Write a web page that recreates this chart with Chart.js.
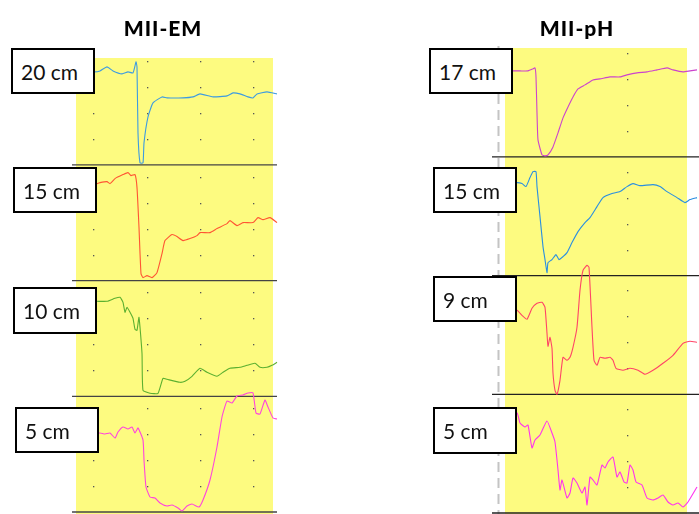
<!DOCTYPE html>
<html>
<head>
<meta charset="utf-8">
<script src="https://cdn.jsdelivr.net/npm/chart.js@4.4.1/dist/chart.umd.min.js"></script>
<style>
  body { margin: 0; background: #fff; }
  #wrap { position: relative; width: 699px; height: 514px; overflow: hidden; font-family: Lato, 'Open Sans', sans-serif; }
  canvas { position: absolute; left: 0; top: 0; }
  .title { position: absolute; top: 16px; width: 160px; text-align: center; font-weight: 900; font-size: 21px; line-height: 24px; letter-spacing: 1px; color: #000; }
  .lbl { position: absolute; box-sizing: border-box; width: 84px; height: 46px; border: 2px solid #000; background: #fff;
         font-size: 21px; padding-left: 8px; display: flex; align-items: center; z-index: 2; color: #111; }
</style>
</head>
<body>
<div id="wrap">
  <canvas id="emChart" width="699" height="514"></canvas>
  <canvas id="phChart" width="699" height="514"></canvas>
  <div class="title" style="left:83px">MII-EM</div>
  <div class="title" style="left:497px">MII-pH</div>
  <div class="lbl" style="left:11px;top:48px">20 cm</div>
  <div class="lbl" style="left:13px;top:167px">15 cm</div>
  <div class="lbl" style="left:13px;top:287px;height:47px">10 cm</div>
  <div class="lbl" style="left:15px;top:407px">5 cm</div>
  <div class="lbl" style="left:429px;top:48px">17 cm</div>
  <div class="lbl" style="left:433px;top:167px">15 cm</div>
  <div class="lbl" style="left:433px;top:276px">9 cm</div>
  <div class="lbl" style="left:433px;top:407px;height:47px">5 cm</div>
</div>
<script>
const emT20 = [0, 1.8, 2.4, 3.1, 3.7, 4.6, 5.2, 5.7, 6.0, 6.1, 6.2, 6.4, 6.7, 6.8, 7.2, 7.7, 8.6, 9.1, 10.7, 11.7, 12.4, 13.7, 15.1, 15.7, 16.4, 17.2, 17.7, 18.1, 19.1, 20.1];
const emV20 = [93, 93, 94, 98, 94, 91, 93, 92, 103, 98, 32, 2, 2, 22, 48, 62, 68, 67, 67, 68, 71, 68, 69, 72, 71, 68, 67, 71, 73, 71];

const emT15 = [0, 2.1, 2.4, 3.1, 3.4, 3.9, 4.7, 5.2, 5.5, 5.9, 6.1, 6.3, 6.5, 6.7, 7.1, 7.6, 8.1, 8.6, 8.9, 9.6, 10.1, 10.7, 11.4, 12.1, 12.4, 13.4, 14.1, 15.1, 15.4, 16.1, 16.7, 17.7, 18.2, 18.7, 19.4, 20.1];
const emV15 = [97, 97, 98, 99, 97, 102, 106, 108, 105, 106, 93, 53, 7, 3, 5, 3, 8, 27, 40, 46, 44, 40, 42, 45, 48, 48, 52, 57, 60, 55, 58, 58, 63, 61, 63, 58];

const emT10 = [0, 2.1, 3.1, 3.9, 4.4, 4.7, 4.9, 5.1, 5.4, 5.7, 5.9, 6.1, 6.3, 6.6, 6.7, 7.4, 8.2, 8.7, 9.1, 10.4, 10.9, 11.6, 12.4, 13.1, 14.1, 14.7, 15.4, 16.4, 17.1, 17.9, 18.4, 19.1, 19.6, 20.1];
const emV10 = [95, 95, 95, 98, 99, 94, 84, 89, 84, 78, 67, 66, 79, 43, 6, 3, 3, 18, 17, 14, 15, 20, 28, 24, 20, 24, 28, 29, 31, 33, 29, 29, 31, 34];

const emT5 = [0, 2.4, 2.9, 3.4, 3.9, 4.2, 4.7, 5.2, 5.6, 5.9, 6.2, 6.7, 6.8, 7.0, 7.4, 7.9, 8.4, 9.1, 9.6, 10.2, 10.6, 11.1, 11.6, 12.3, 12.7, 13.4, 14.1, 14.6, 15.1, 15.6, 16.1, 16.7, 17.2, 17.7, 18.0, 18.4, 18.9, 19.2, 19.7, 20.1];
const emV5 = [79, 79, 78, 79, 74, 80, 85, 83, 85, 79, 84, 72, 52, 25, 15, 14, 9, 6, 7, 4, 1, 6, 8, 5, 12, 32, 65, 95, 111, 109, 116, 117, 119, 119, 99, 98, 112, 105, 94, 93];

const phT17 = [-0.5, 0.8, 1.5, 2.3, 2.8, 3.0, 3.1, 3.2, 3.3, 3.7, 4.0, 4.3, 4.8, 5.3, 5.8, 6.3, 6.8, 7.3, 8.0, 8.8, 9.5, 10.5, 11.5, 12.2, 13.2, 14.2, 15.2, 16.2, 16.8, 17.8, 18.5, 19.2];
const phV17 = [86, 86, 86, 86, 88, 89, 80, 44, 17, 2, 1, 2, 10, 24, 39, 50, 60, 68, 72, 77, 78, 80, 80, 82, 84, 85, 87, 89, 87, 85, 86, 87];

const phT15 = [-0.5, 1.2, 1.7, 2.1, 2.5, 2.8, 3.1, 3.2, 3.5, 3.8, 4.0, 4.2, 4.3, 4.7, 5.1, 5.4, 5.8, 6.2, 6.7, 7.3, 8.0, 8.5, 9.2, 9.8, 10.7, 11.5, 12.2, 12.8, 13.5, 14.8, 15.5, 16.2, 17.2, 18.0, 18.5, 19.2];
const phV15 = [93, 93, 92, 89, 98, 104, 104, 89, 59, 29, 16, 3, 13, 16, 21, 16, 19, 23, 33, 44, 53, 58, 69, 78, 82, 84, 89, 92, 90, 91, 89, 84, 78, 73, 76, 78];

const phT9 = [-0.5, 1.2, 1.7, 2.2, 2.7, 3.2, 3.7, 4.0, 4.2, 4.3, 4.5, 4.7, 4.8, 5.0, 5.2, 5.5, 5.8, 6.2, 6.5, 6.8, 7.2, 7.5, 7.8, 8.2, 8.4, 8.7, 8.9, 9.2, 9.5, 10.0, 10.5, 10.8, 11.1, 11.8, 12.5, 13.3, 14.0, 14.8, 15.8, 16.8, 17.8, 18.5, 19.2];
const phV9 = [88, 84, 79, 75, 86, 91, 92, 87, 61, 48, 57, 46, 21, 4, 0, 14, 37, 34, 37, 47, 67, 104, 124, 129, 127, 67, 34, 29, 37, 36, 37, 34, 26, 24, 26, 24, 20, 24, 31, 39, 51, 53, 52];

const phT5 = [-0.5, 1.2, 1.5, 2.0, 2.3, 2.7, 3.0, 3.5, 4.2, 4.7, 5.0, 5.3, 5.5, 5.7, 6.2, 6.5, 6.8, 7.2, 7.7, 8.0, 8.2, 8.5, 8.8, 9.2, 9.7, 10.0, 10.3, 10.8, 11.2, 11.5, 11.9, 12.2, 12.5, 12.8, 13.1, 13.7, 14.2, 14.8, 15.3, 15.8, 16.3, 16.8, 17.3, 17.8, 18.3, 19.2];
const phV5 = [103, 100, 90, 86, 88, 65, 73, 78, 92, 80, 71, 43, 23, 33, 15, 20, 35, 30, 20, 26, 8, 36, 33, 28, 48, 45, 51, 56, 36, 41, 31, 30, 48, 43, 31, 28, 15, 13, 15, 18, 11, 8, 10, 6, 11, 26];

const YELLOW = '#fdfb80';
const GRID_LEVELS = [26, 52, 78, 104];

const tracePanel = {
  id: 'tracePanel',
  beforeDatasetsDraw(chart, args, opts) {
    const { ctx, chartArea, scales: { x, y } } = chart;
    ctx.save();
    // yellow background
    const yl = x.getPixelForValue(opts.yellow[0]);
    const yr = x.getPixelForValue(opts.yellow[1]);
    const yt = y.getPixelForValue(opts.yellow[2]);
    ctx.fillStyle = YELLOW;
    ctx.fillRect(yl, yt, yr - yl, chart.height - yt);

    // dashed marker line
    if (opts.dash) {
      const dx = Math.round(x.getPixelForValue(opts.dash[0])) + 0.5;
      ctx.strokeStyle = '#c4c4c4';
      ctx.lineWidth = 2;
      ctx.setLineDash([10, 6]);
      ctx.beginPath();
      ctx.moveTo(dx, y.getPixelForValue(opts.dash[1]));
      ctx.lineTo(dx, chart.height);
      ctx.stroke();
      ctx.setLineDash([]);
    }

    // dotted grid
    ctx.fillStyle = '#555';
    for (let k = 0; k < 4; k++) {
      GRID_LEVELS.forEach((lv) => {
        const py = y.getPixelForValue(k * opts.lane + lv);
        opts.dots.forEach((t) => {
          ctx.fillRect(Math.round(x.getPixelForValue(t)), Math.round(py), 1.3, 1.3);
        });
      });
    }

    // channel separators
    ctx.strokeStyle = opts.sepColor;
    ctx.lineWidth = 1.3;
    for (let k = 0; k < 4; k++) {
      const py = y.getPixelForValue(k * opts.lane);
      ctx.beginPath();
      ctx.moveTo(chartArea.left, py);
      ctx.lineTo(chartArea.right, py);
      ctx.stroke();
    }
    ctx.restore();
  },
};

function buildTraces(channels, lane) {
  // channels listed top to bottom
  return channels.map((ch, i) => {
    const offset = (channels.length - 1 - i) * lane;
    return {
      data: ch.t.map((t, j) => ({ x: t, y: ch.v[j] + offset })),
      borderColor: ch.color,
      borderWidth: 1.1,
      pointRadius: 0,
      tension: 0.15,
      clip: false,
    };
  });
}

function makePanel(id, channels, cfg) {
  return new Chart(document.getElementById(id), {
    type: 'line',
    data: { datasets: buildTraces(channels, cfg.lane) },
    options: {
      responsive: false,
      animation: false,
      layout: { padding: cfg.padding },
      scales: {
        x: { type: 'linear', display: false, min: cfg.xRange[0], max: cfg.xRange[1] },
        y: { type: 'linear', display: false, min: 0, max: cfg.yMax },
      },
      plugins: {
        legend: { display: false },
        tooltip: { enabled: false },
        tracePanel: cfg.panel,
      },
    },
    plugins: [tracePanel],
  });
}

makePanel('emChart', [
  { t: emT20, v: emV20, color: '#3d9be0' },
  { t: emT15, v: emV15, color: '#ff5533' },
  { t: emT10, v: emV10, color: '#5cb030' },
  { t: emT5, v: emV5, color: '#ff44dd' },
], {
  lane: 115.7,
  padding: { left: 72, right: 422, top: 40, bottom: 2 },
  xRange: [-0.4, 20.1],
  yMax: 472,
  panel: { lane: 115.7, yellow: [0, 19.7, 454], dots: [1.7, 7.1, 12.4, 17.7], sepColor: '#444' },
});

makePanel('phChart', [
  { t: phT17, v: phV17, color: '#cc44cc' },
  { t: phT15, v: phV15, color: '#2a8fe0' },
  { t: phT9, v: phV9, color: '#ff4466' },
  { t: phT5, v: phV5, color: '#ff33ee' },
], {
  lane: 118.7,
  padding: { left: 492, right: 0, top: 38, bottom: 1 },
  xRange: [-1.3, 19.4],
  yMax: 475,
  panel: { lane: 118.7, yellow: [0, 18.2, 465], dash: [-0.7, 467], dots: [12.2], sepColor: '#222' },
});
</script>
</body>
</html>
